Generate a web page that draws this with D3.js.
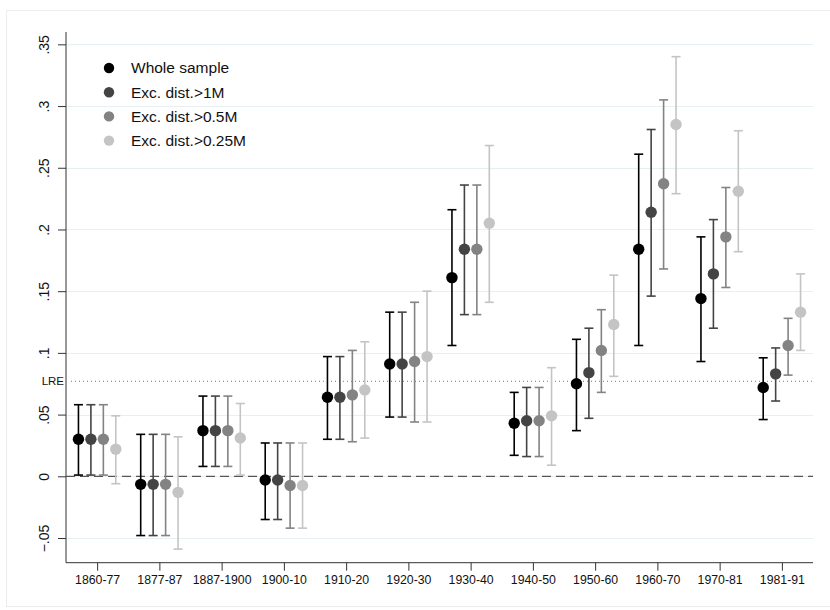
<!DOCTYPE html>
<html>
<head>
<meta charset="utf-8">
<script src="https://cdn.jsdelivr.net/npm/d3@7"></script>
<style>
  body { margin: 0; background: #fff; }
  svg { display: block; font-family: 'Liberation Sans', Arial, Helvetica, sans-serif; }
</style>
</head>
<body>
<div id="chart"></div>
<script>
const periods = ['1860-77', '1877-87', '1887-1900', '1900-10', '1910-20', '1920-30',
  '1930-40', '1940-50', '1950-60', '1960-70', '1970-81', '1981-91'];
const seriesNames = ['Whole sample', 'Exc. dist.>1M', 'Exc. dist.>0.5M', 'Exc. dist.>0.25M'];

const wholeEst = [0.030, -0.0065, 0.037, -0.003, 0.064, 0.091, 0.161, 0.043, 0.075, 0.184, 0.144, 0.072];
const wholeLo = [0.001, -0.048, 0.008, -0.035, 0.030, 0.048, 0.106, 0.017, 0.037, 0.106, 0.093, 0.046];
const wholeHi = [0.058, 0.034, 0.065, 0.027, 0.097, 0.133, 0.216, 0.068, 0.111, 0.261, 0.194, 0.096];

const exc1Est = [0.030, -0.0065, 0.037, -0.003, 0.064, 0.091, 0.184, 0.045, 0.084, 0.214, 0.164, 0.083];
const exc1Lo = [0.001, -0.048, 0.008, -0.035, 0.030, 0.048, 0.131, 0.016, 0.047, 0.146, 0.120, 0.061];
const exc1Hi = [0.058, 0.034, 0.065, 0.027, 0.097, 0.133, 0.236, 0.072, 0.120, 0.281, 0.208, 0.104];

const exc05Est = [0.030, -0.0065, 0.037, -0.0075, 0.066, 0.093, 0.184, 0.045, 0.102, 0.237, 0.194, 0.106];
const exc05Lo = [0.001, -0.048, 0.008, -0.042, 0.028, 0.044, 0.131, 0.016, 0.068, 0.168, 0.153, 0.082];
const exc05Hi = [0.058, 0.034, 0.065, 0.027, 0.102, 0.141, 0.236, 0.072, 0.135, 0.305, 0.234, 0.128];

const exc025Est = [0.022, -0.013, 0.031, -0.0075, 0.070, 0.097, 0.205, 0.049, 0.123, 0.285, 0.231, 0.133];
const exc025Lo = [-0.006, -0.059, 0.001, -0.042, 0.031, 0.044, 0.141, 0.009, 0.081, 0.229, 0.182, 0.102];
const exc025Hi = [0.049, 0.032, 0.059, 0.027, 0.109, 0.150, 0.268, 0.088, 0.163, 0.340, 0.280, 0.164];

const yTicks = [-0.05, 0, 0.05, 0.1, 0.15, 0.2, 0.25, 0.3, 0.35];
const lre = 0.077;

const colors = ['#000000', '#444444', '#838383', '#c4c4c4'];
const offsets = [-0.3, -0.1, 0.1, 0.3];

const series = [
  [wholeEst, wholeLo, wholeHi],
  [exc1Est, exc1Lo, exc1Hi],
  [exc05Est, exc05Lo, exc05Hi],
  [exc025Est, exc025Lo, exc025Hi],
].map(([est, lo, hi]) => periods.map((p, i) => ({
  i, est: est[i], lo: lo[i], hi: hi[i],
})));

const width = 830;
const height = 610;
const plotLeft = 66;
const plotRight = 813;
const plotTop = 32;
const plotBottom = 562.7;

const svg = d3.select('#chart').append('svg')
  .attr('width', width)
  .attr('height', height);

// faint outer frame of the graph region
svg.append('rect')
  .attr('x', 6.5).attr('y', 10.5)
  .attr('width', 830).attr('height', 596)
  .attr('fill', 'none')
  .attr('stroke', '#ececec');

const x = d3.scaleLinear().domain([0.5, 12.5]).range([plotLeft, plotRight]);
const y = d3.scaleLinear().domain([-0.07, 0.36]).range([plotBottom, plotTop]);

const fmt = d => (d === 0 ? '0' : d3.format('.2~f')(d).replace('0.', '.'));

// gridlines
svg.append('g')
  .selectAll('line')
  .data(yTicks)
  .join('line')
  .attr('x1', plotLeft).attr('x2', plotRight)
  .attr('y1', d => Math.round(y(d)) + 0.5)
  .attr('y2', d => Math.round(y(d)) + 0.5)
  .attr('stroke', '#e6eff1')
  .attr('stroke-width', 1.2);

// y axis
const yAxis = d3.axisLeft(y).tickValues(yTicks).tickSize(8).tickFormat(fmt);
const yGroup = svg.append('g')
  .attr('transform', `translate(${plotLeft},0)`)
  .call(yAxis);
yGroup.select('.domain').attr('stroke', '#333').attr('d', `M0,${plotTop}V${plotBottom}`);
yGroup.selectAll('.tick line').attr('stroke', '#333');
yGroup.selectAll('.tick text')
  .attr('x', null).attr('dy', null)
  .attr('transform', 'translate(-21,0) rotate(-90)')
  .attr('text-anchor', 'middle')
  .attr('dominant-baseline', 'middle')
  .attr('font-size', 14)
  .attr('font-family', null)
  .attr('fill', '#111');

// x axis
const xAxis = d3.axisBottom(x)
  .tickValues(d3.range(1, periods.length + 1))
  .tickSize(8)
  .tickFormat(d => periods[d - 1]);
const xGroup = svg.append('g')
  .attr('transform', `translate(0,${plotBottom})`)
  .call(xAxis);
xGroup.select('.domain').attr('stroke', '#333').attr('d', `M${plotLeft},0H${plotRight}`);
xGroup.selectAll('.tick line').attr('stroke', '#333');
xGroup.selectAll('.tick text')
  .attr('y', 13)
  .attr('dy', '0.71em')
  .attr('font-size', 12.3)
  .attr('font-family', null)
  .attr('fill', '#111');

// zero line
svg.append('line')
  .attr('x1', plotLeft).attr('x2', plotRight)
  .attr('y1', y(0)).attr('y2', y(0))
  .attr('stroke', '#555')
  .attr('stroke-width', 1.2)
  .attr('stroke-dasharray', '9,5');

// LRE reference line
svg.append('line')
  .attr('x1', plotLeft + 5).attr('x2', plotRight)
  .attr('y1', y(lre)).attr('y2', y(lre))
  .attr('stroke', '#777')
  .attr('stroke-width', 1)
  .attr('stroke-dasharray', '1,3');
svg.append('text')
  .attr('x', plotLeft - 2)
  .attr('y', y(lre))
  .attr('dy', '0.35em')
  .attr('text-anchor', 'end')
  .attr('font-size', 11.5)
  .attr('fill', '#111')
  .text('LRE');

// error bars and markers
const cap = 4.5;
const groups = svg.append('g')
  .selectAll('g.series')
  .data(series)
  .join('g')
  .attr('class', 'series');

groups.each(function drawSeries(data, s) {
  const g = d3.select(this);
  const cx = d => x(d.i + 1 + offsets[s]);
  const bars = g.selectAll('g.bar').data(data).join('g').attr('class', 'bar')
    .attr('stroke', colors[s])
    .attr('stroke-width', 1.6);
  bars.append('line')
    .attr('x1', cx).attr('x2', cx)
    .attr('y1', d => y(d.lo)).attr('y2', d => y(d.hi));
  bars.append('line')
    .attr('x1', d => cx(d) - cap).attr('x2', d => cx(d) + cap)
    .attr('y1', d => y(d.hi)).attr('y2', d => y(d.hi));
  bars.append('line')
    .attr('x1', d => cx(d) - cap).attr('x2', d => cx(d) + cap)
    .attr('y1', d => y(d.lo)).attr('y2', d => y(d.lo));
  g.selectAll('circle').data(data).join('circle')
    .attr('cx', cx)
    .attr('cy', d => y(d.est))
    .attr('r', 5.7)
    .attr('fill', colors[s]);
});

// legend
const legend = svg.append('g').attr('transform', 'translate(109,68)');
const items = legend.selectAll('g').data(seriesNames).join('g')
  .attr('transform', (d, i) => `translate(0,${i * 24.2})`);
items.append('circle').attr('r', 5.2).attr('fill', (d, i) => colors[i]);
items.append('text')
  .attr('x', 22)
  .attr('dy', '0.35em')
  .attr('font-size', 15.5)
  .attr('fill', '#111')
  .text(d => d);
</script>
</body>
</html>
